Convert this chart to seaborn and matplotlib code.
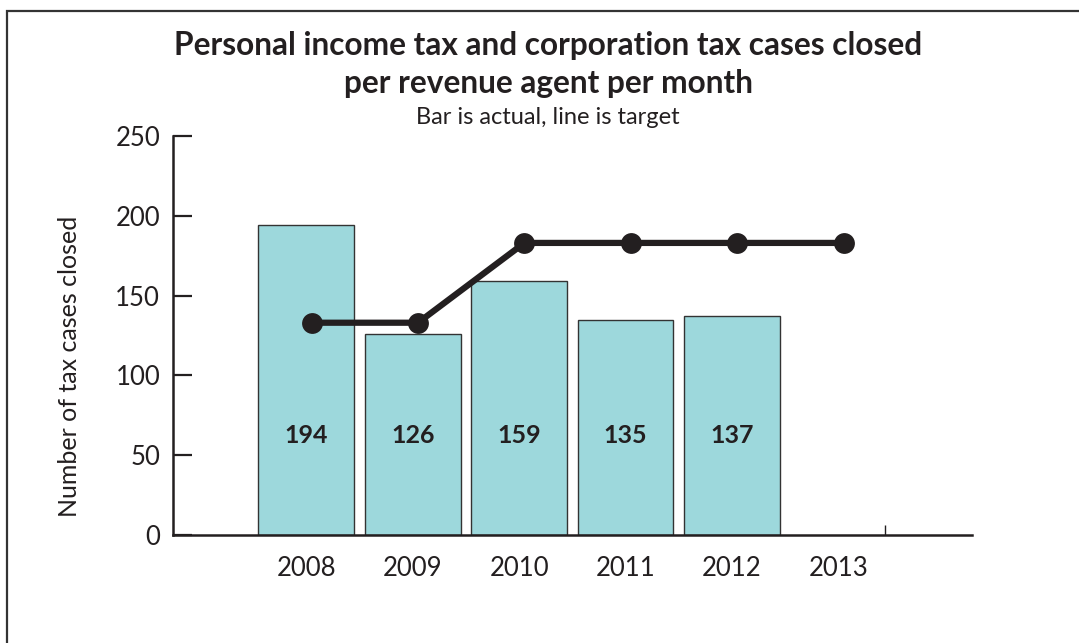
import matplotlib
matplotlib.use("Agg")
import matplotlib.pyplot as plt
import seaborn as sns
import numpy as np
import pandas as pd
from matplotlib.patches import Rectangle

# Data
years = ["2008", "2009", "2010", "2011", "2012", "2013"]
actual_years = ["2008", "2009", "2010", "2011", "2012"]
actual = [194, 126, 159, 135, 137]
target = [133, 133, 183, 183, 183, 183]
y_ticks = [0, 50, 100, 150, 200, 250]

title_lines = ["Personal income tax and corporation tax cases closed",
               "per revenue agent per month"]
subtitle = "Bar is actual, line is target"
y_label = "Number of tax cases closed"

sns.set_theme(style="white")
plt.rcParams["font.family"] = ["Lato", "DejaVu Sans"]

INK = "#231f20"
BAR = "#9dd8dc"

fig = plt.figure(figsize=(10.79, 6.43), dpi=100)
ax = fig.add_axes([0.160, 0.168, 0.7408, 0.6205])

bars_df = pd.DataFrame({"year": actual_years, "cases": actual})
sns.barplot(data=bars_df, x="year", y="cases", order=years, color=BAR,
            saturation=1, width=0.9, edgecolor="#333333", linewidth=1.0, ax=ax)

line_df = pd.DataFrame({"pos": np.arange(len(years)) + 0.05, "target": target})
sns.lineplot(data=line_df, x="pos", y="target", color=INK, linewidth=4.5,
             marker="o", markersize=15, markeredgewidth=0, ax=ax)

for i, v in enumerate(actual):
    ax.text(i, 62.5, str(v), ha="center", va="center", fontsize=18,
            fontweight="bold", color=INK)

ax.set_xlim(-1.256, 6.256)
ax.set_ylim(0, 250)
ax.set_yticks(y_ticks)
ax.set_yticklabels([str(t) for t in y_ticks])
ax.set_xticks(range(len(years)))
ax.set_xticklabels(years)
ax.set_xticks([5.44], minor=True)

ax.tick_params(axis="y", direction="in", length=14, width=1.6, color=INK,
               labelsize=18.5, labelcolor=INK, pad=9, left=True)
ax.tick_params(axis="x", which="major", length=0, labelsize=18.5,
               labelcolor=INK, pad=15)
ax.tick_params(axis="x", which="minor", direction="in", length=7, width=1.0,
               color=INK, bottom=True)

for side in ["top", "right"]:
    ax.spines[side].set_visible(False)
for side in ["left", "bottom"]:
    ax.spines[side].set_color(INK)
    ax.spines[side].set_linewidth(1.8)

ax.set_xlabel("")
ax.set_ylabel(y_label, fontsize=18, color=INK)
ax.yaxis.set_label_coords(-0.115, 0.4236)

fig.text(0.508, 1 - 45 / 643, title_lines[0], ha="center", va="center",
         fontsize=22.8, fontweight="bold", color=INK)
fig.text(0.508, 1 - 83 / 643, title_lines[1], ha="center", va="center",
         fontsize=22.8, fontweight="bold", color=INK)
fig.text(0.508, 1 - 117 / 643, subtitle, ha="center", va="center",
         fontsize=17, color=INK)

# Outer frame (open on the right and bottom)
fig.add_artist(Rectangle((7 / 1079, -0.1), 1.2, 1 - 11 / 643 + 0.1,
                         transform=fig.transFigure, fill=False,
                         edgecolor="#333333", linewidth=1.6))

fig.savefig("out.png", dpi=100, facecolor="white")
